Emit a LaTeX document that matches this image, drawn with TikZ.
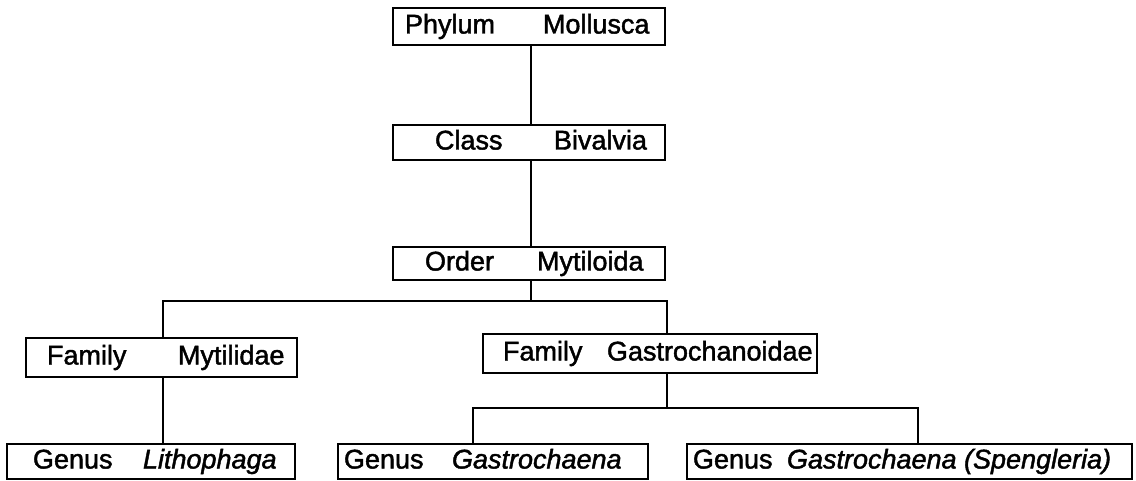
\documentclass[tikz,border=0pt]{standalone}
\usepackage{fontspec}
\setmainfont{Liberation Sans}[FakeBold=1.6]
\usetikzlibrary{calc}
% box width, left pad, offset of the second word, rank, name
\newcommand{\taxon}[5]{\makebox[#1pt][l]{\makebox[#3pt][l]{\hspace*{#2pt}#4}#5}}
\begin{document}
\begin{tikzpicture}[x=1pt,y=-1pt,line width=2pt,
  taxbox/.style={draw,inner sep=0pt,font=\fontsize{27}{30}\selectfont,
    text height=20pt,text depth=6pt},
  link/.style={line width=2pt}]
\path[use as bounding box] (0,0) rectangle (1136,481);
\fill[white] (0,0) rectangle (1136,481);

% ranks
\node[taxbox,minimum width=272pt,minimum height=37pt] (P) at (529,26.5)
  {\taxon{272}{12}{150}{Phylum}{Mollusca}};
\node[taxbox,minimum width=272pt,minimum height=35pt] (C) at (529,142.5)
  {\taxon{272}{42}{161}{Class}{Bivalvia}};
\node[taxbox,minimum width=272pt,minimum height=33pt] (O) at (529,263.5)
  {\taxon{272}{32}{144}{Order}{Mytiloida}};
\node[taxbox,minimum width=271pt,minimum height=39pt] (FM) at (161.5,357.5)
  {\taxon{271}{21}{152}{Family}{Mytilidae}};
\node[taxbox,minimum width=334pt,minimum height=39pt] (FG) at (650,353.5)
  {\taxon{334}{20}{124}{Family}{Gastrochanoidae}};
\node[taxbox,minimum width=288pt,minimum height=35pt] (GL) at (151,461.5)
  {\taxon{288}{26}{136}{Genus}{\itshape Lithophaga}};
\node[taxbox,minimum width=310pt,minimum height=35pt] (GG) at (493,461.5)
  {\taxon{310}{6}{114}{Genus}{\itshape Gastrochaena}};
\node[taxbox,minimum width=445pt,minimum height=35pt] (GS) at (909.5,461.5)
  {\taxon{445}{6}{100}{Genus}{\itshape Gastrochaena (Spengleria)}};

% branch points
\coordinate (j1) at (531,301);
\coordinate (bM) at (163,301);
\coordinate (bG) at (667,301);
\coordinate (j2) at (667,408);
\coordinate (bGG) at (473,408);
\coordinate (bGS) at (918,408);

% connectors
\draw[link] (P.south -| j1) -- (C.north -| j1);
\draw[link] (C.south -| j1) -- (O.north -| j1);
\draw[link] (O.south -| j1) -- (j1);
\draw[link] (bM |- FM.north) -- (bM) -- (bG) -- (bG |- FG.north);
\draw[link] (bM |- FM.south) -- (bM |- GL.north);
\draw[link] (j2 |- FG.south) -- (j2);
\draw[link] (bGG |- GG.north) -- (bGG) -- (bGS) -- (bGS |- GS.north);
\end{tikzpicture}
\end{document}
